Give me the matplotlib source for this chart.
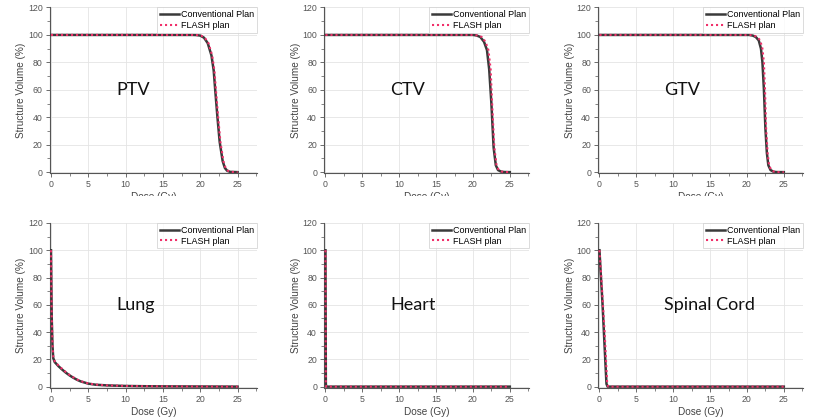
# DVH comparison, conventional vs FLASH plan, six structures
import numpy as np
import matplotlib.pyplot as plt
from matplotlib.patches import Rectangle
from matplotlib.ticker import MultipleLocator

# dose (Gy) and structure volume (%)
ptv_dose = [0, 19.0, 19.5, 20.0, 20.5, 21.0, 21.5, 21.8, 22.0, 22.3, 22.6, 23.0, 23.3, 23.6, 24.0, 25.0]
ptv_conv = [100, 100, 99.9, 99.5, 98, 94, 85, 74, 60, 40, 22, 8, 3, 1, 0.2, 0]
ptv_flash_dose = [0, 19.1, 19.6, 20.1, 20.6, 21.1, 21.6, 21.9, 22.1, 22.4, 22.7, 23.1, 23.4, 23.7, 24.1, 25.0]
ptv_flash = [100, 100, 99.9, 99.5, 98, 94, 85, 74, 60, 40, 22, 8, 3, 1, 0.2, 0]

ctv_dose = [0, 20.0, 20.5, 21.0, 21.5, 21.9, 22.2, 22.5, 22.8, 23.1, 23.4, 23.8, 24.2, 25.0]
ctv_conv = [100, 100, 99.6, 98.5, 95, 89, 75, 50, 18, 5, 1.5, 0.4, 0.1, 0]
ctv_flash_dose = [0, 20.1, 20.7, 21.2, 21.7, 22.1, 22.4, 22.6, 22.9, 23.2, 23.5, 23.9, 24.3, 25.0]
ctv_flash = [100, 100, 99.6, 98.5, 95, 89, 75, 50, 18, 5, 1.5, 0.4, 0.1, 0]

gtv_dose = [0, 20.3, 20.8, 21.2, 21.6, 21.9, 22.1, 22.3, 22.5, 22.7, 22.9, 23.2, 23.6, 24.0, 25.0]
gtv_conv = [100, 100, 99.5, 98.5, 96, 90, 80, 60, 32, 14, 5, 1.5, 0.3, 0.05, 0]
gtv_flash_dose = [0, 20.4, 21.0, 21.4, 21.8, 22.1, 22.3, 22.45, 22.6, 22.8, 23.0, 23.3, 23.7, 24.1, 25.0]
gtv_flash = [100, 100, 99.5, 98.5, 96, 90, 80, 60, 32, 14, 5, 1.5, 0.3, 0.05, 0]

lung_dose = [0, 0.05, 0.1, 0.2, 0.3, 0.5, 1.0, 1.5, 2.0, 2.5, 3.0, 3.5, 4.0, 5.0, 6.0, 7.5, 10, 12.5, 15, 20, 25]
lung_conv = [100, 75, 50, 30, 21, 18, 15, 12.5, 10.2, 8.2, 6.5, 5, 3.8, 2.2, 1.4, 0.9, 0.5, 0.3, 0.2, 0.1, 0]
lung_flash = [100, 76, 52, 31, 22, 18.6, 15.5, 13, 10.6, 8.5, 6.8, 5.2, 4.0, 2.3, 1.5, 0.9, 0.5, 0.3, 0.2, 0.1, 0]

heart_dose = [0, 0.05, 0.1, 25]
heart_conv = [100, 2, 0, 0]
heart_flash = [100, 2, 0, 0]

cord_dose = [0, 0.2, 0.4, 0.6, 0.8, 0.95, 1.1, 25]
cord_conv = [100, 80, 62, 40, 18, 2, 0, 0]
cord_flash_dose = [0, 0.25, 0.45, 0.7, 0.9, 1.05, 1.2, 25]
cord_flash = [100, 80, 62, 40, 18, 2, 0, 0]

names = ['PTV', 'CTV', 'GTV', 'Lung', 'Heart', 'Spinal Cord']
conv_curves = [(ptv_dose, ptv_conv), (ctv_dose, ctv_conv), (gtv_dose, gtv_conv),
               (lung_dose, lung_conv), (heart_dose, heart_conv), (cord_dose, cord_conv)]
flash_curves = [(ptv_flash_dose, ptv_flash), (ctv_flash_dose, ctv_flash), (gtv_flash_dose, gtv_flash),
                (lung_dose, lung_flash), (heart_dose, heart_flash), (cord_flash_dose, cord_flash)]

plt.rcParams['font.family'] = ['Liberation Sans', 'DejaVu Sans']

fig = plt.figure(figsize=(8.21, 4.19), dpi=100)
W, H = 821, 419

# axes boxes in pixels: left, right, top, bottom
cols = [(49.5, 257), (324, 529), (598, 803)]
rows = [(7.5, 173.5), (223, 388)]

for i in range(6):
    r, c = divmod(i, 3)
    x0, x1 = cols[c]
    y0, y1 = rows[r]
    ax = fig.add_axes([x0 / W, 1 - y1 / H, (x1 - x0) / W, (y1 - y0) / H])

    d, v = conv_curves[i]
    ax.plot(d, v, color='#3a3a3a', lw=1.8, label='Conventional Plan', zorder=3)
    d, v = flash_curves[i]
    ax.plot(d, v, color='#f0306a', lw=1.5, ls=(0, (1, 1.4)), label='FLASH plan', zorder=4)

    ax.set_xlim(-0.2, 27.6)
    ax.set_ylim(-1, 120)
    ax.xaxis.set_major_locator(MultipleLocator(5))
    ax.xaxis.set_minor_locator(MultipleLocator(2.5))
    ax.yaxis.set_major_locator(MultipleLocator(20))
    ax.yaxis.set_minor_locator(MultipleLocator(10))
    ax.grid(True, which='major', color='#e4e4e4', lw=0.6)
    ax.set_axisbelow(True)
    for s in ['top', 'right']:
        ax.spines[s].set_visible(False)
    for s in ['left', 'bottom']:
        ax.spines[s].set_color('#555555')
        ax.spines[s].set_linewidth(0.8)
    ax.tick_params(which='major', length=3, width=0.6, color='#555555',
                   labelsize=6.3, labelcolor='#555555', pad=2)
    ax.tick_params(which='minor', length=2, width=0.5, color='#555555')

    ax.set_xlabel('Dose (Gy)', fontsize=7.2, color='#444444', labelpad=2)
    ax.set_ylabel('Structure Volume (%)', fontsize=7.2, color='#444444', labelpad=1)

    ax.text(8.8, 60, names[i], fontsize=13, family=['Lato', 'DejaVu Sans'],
            color='#111111', ha='left', va='center')

    leg = ax.legend(loc='upper right', fontsize=6.5, frameon=True, fancybox=False,
                    borderaxespad=0.0, handlelength=2.2, handletextpad=0.2,
                    borderpad=0.3, labelspacing=0.2)
    leg.get_frame().set_edgecolor('#cccccc')
    leg.get_frame().set_linewidth(0.6)

# the top row x-labels are cut by the panel join in the original
fig.patches.append(Rectangle((0, 1 - 210 / H), 1, 13.5 / H, transform=fig.transFigure,
                             facecolor='white', edgecolor='none', zorder=10))

plt.savefig('out.png', dpi=100)
